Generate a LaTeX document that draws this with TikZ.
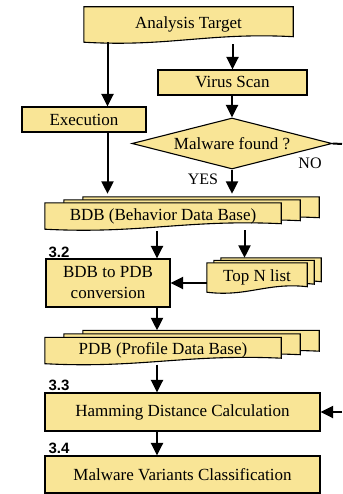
\documentclass[tikz,border=0pt]{standalone}
\usepackage{fontspec}
\setmainfont{Liberation Serif}
\newfontfamily\serifface{Liberation Serif}
\newfontfamily\lblfont{Liberation Sans}
\usetikzlibrary{shapes.geometric,arrows.meta,backgrounds,calc}
\definecolor{boxfill}{RGB}{249,229,150}
\newcommand\docoutline[1]{%
  \filldraw[boxline] let \p1=(#1.north west), \p2=(#1.south east), \n1={\x2-\x1} in
    (\p1) -- (\x2,\y1) -- (\x2,\y2+5.5pt)
    .. controls (\x2-0.4*\n1,\y2+10pt) and (\x1+0.4*\n1,\y2-5pt) .. (\x1,\y2) -- cycle;}
\begin{document}
\begin{tikzpicture}[x=1pt,y=-1pt,
  txt/.style={font=\serifface\fontsize{17}{21}\selectfont, inner sep=0pt, align=center},
  rbox/.style={txt, draw, fill=boxfill, line width=1.1pt},
  doc/.style={txt},
  boxline/.style={draw=black, fill=boxfill, line width=1.1pt},
  arr/.style={line width=2pt, -{Triangle[length=12.5pt,width=12pt]}},
  conn/.style={line width=2pt},
  sec/.style={font=\lblfont\bfseries\fontsize{15}{15}\selectfont, inner sep=0pt},
  lab/.style={font=\serifface\fontsize{16}{16}\selectfont, inner sep=0pt}]
\useasboundingbox (0,0) rectangle (342,494);

% nodes
\node[doc, minimum width=209pt, minimum height=35pt] (at) at (188.5,24.5) {Analysis Target};
\node[rbox, minimum width=149pt, minimum height=25pt] (vs) at (232.5,82.5) {Virus Scan};
\node[rbox, minimum width=124pt, minimum height=25pt] (ex) at (84,119.5) {Execution};
\node[rbox, diamond, aspect=4, minimum width=200pt, minimum height=51pt] (mf) at (232,143.5) {\raisebox{-2pt}{Malware found ?}};

\node[doc, minimum width=236pt, minimum height=26pt] (bdbC) at (201,210) {};
\node[doc, minimum width=236pt, minimum height=26pt] (bdbB) at (182,213) {};
\node[doc, minimum width=236pt, minimum height=26pt] (bdb) at (163,216) {BDB (Behavior Data Base)};

\node[rbox, minimum width=124pt, minimum height=48pt] (conv) at (108,283) {BDB to PDB\\conversion};

\node[doc, minimum width=100pt, minimum height=29pt] (topC) at (271,272.5) {};
\node[doc, minimum width=100pt, minimum height=29pt] (topB) at (264,275) {};
\node[doc, minimum width=100pt, minimum height=29pt] (top) at (257,277.5) {\raisebox{-2pt}{Top N list}};

\node[doc, minimum width=236pt, minimum height=26pt] (pdbC) at (201,343.5) {};
\node[doc, minimum width=236pt, minimum height=26pt] (pdbB) at (182,347) {};
\node[doc, minimum width=236pt, minimum height=26pt] (pdb) at (163,350.5) {PDB (Profile Data Base)};

\node[rbox, minimum width=275pt, minimum height=38pt] (ham) at (182.5,412) {Hamming Distance Calculation};
\node[rbox, minimum width=275pt, minimum height=37pt] (mvc) at (182.5,474.5) {Malware Variants Classification};

\node[sec] (s32) at (59,252) {3.2};
\node[sec] (s33) at (59,385) {3.3};
\node[sec] (s34) at (59,448) {3.4};
\node[lab] (yes) at (203,179) {YES};
\node[lab] (no) at (310,163) {NO};

\coordinate (lx) at (107.5,0);
\coordinate (spine) at (157,0);
\coordinate (tx) at (244.5,0);
\coordinate (nout) at (342,144);
\coordinate (hin) at (342,412);

% shapes behind the text
\begin{scope}[on background layer]
  \docoutline{at}
  \docoutline{bdbC}
  \docoutline{bdbB}
  \docoutline{bdb}
  \docoutline{topC}
  \docoutline{topB}
  \docoutline{top}
  \docoutline{pdbC}
  \docoutline{pdbB}
  \docoutline{pdb}
\end{scope}

% connectors
\draw[arr] (at.south -| lx) -- (ex.north -| lx);
\draw[arr] ([yshift=-2pt]at.south -| vs.north) -- (vs.north);
\draw[arr] (ex.south -| lx) -- ([yshift=3pt]bdbC.north -| lx);
\draw[arr] (vs.south -| mf.north) -- (mf.north);
\draw[arr] (mf.south) -- ([yshift=3pt]bdbC.north -| mf.south);
\draw[conn] (mf.east) -- (nout);
\draw[arr] ([yshift=-2pt]bdb.south -| spine) -- (conv.north -| spine);
\draw[arr] ([yshift=-1pt]bdb.south -| tx) -- (topC.north -| tx);
\draw[arr] (top.west |- conv.east) -- (conv.east);
\draw[arr] (conv.south -| spine) -- (pdbC.north -| spine);
\draw[arr] ([yshift=-1pt]pdb.south -| spine) -- (ham.north -| spine);
\draw[arr] (ham.south -| spine) -- (mvc.north -| spine);
\draw[arr] (hin) -- (ham.east);
\end{tikzpicture}
\end{document}
